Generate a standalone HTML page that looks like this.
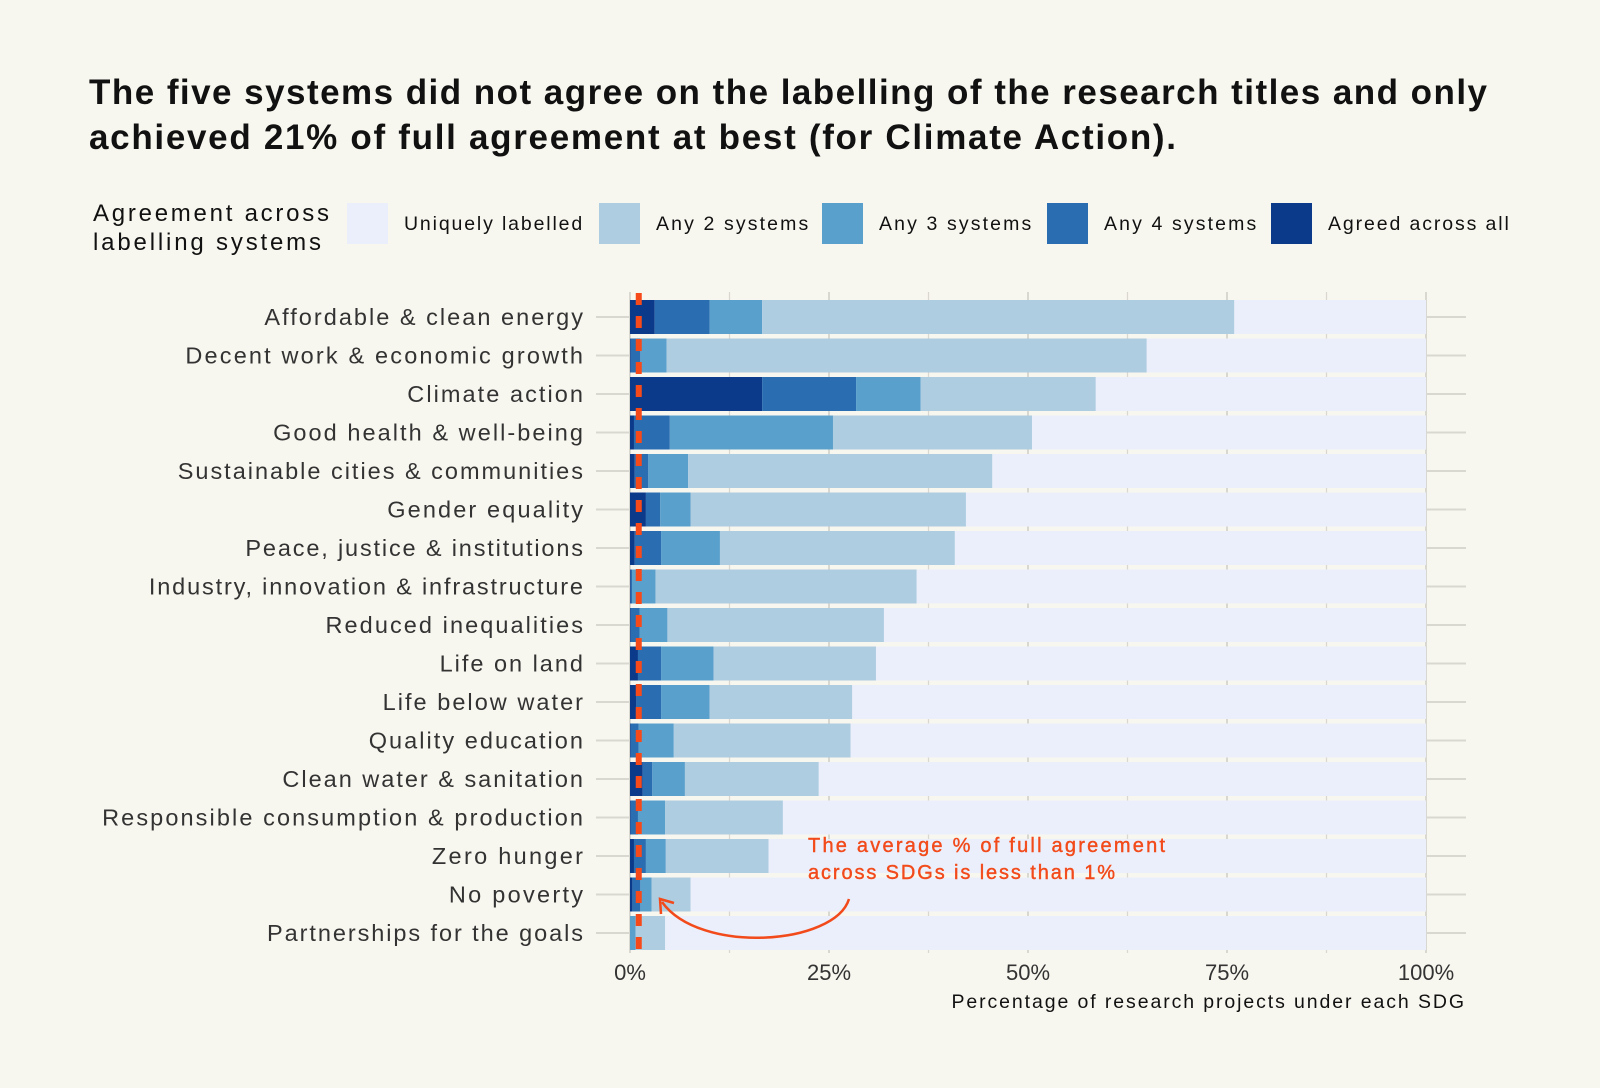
<!DOCTYPE html>
<html><head><meta charset="utf-8"><style>
body{margin:0;background:#f8f7ef;}
svg{display:block;font-family:"Liberation Sans",sans-serif;}
</style></head><body>
<svg id="c" width="1600" height="1088" viewBox="0 0 1600 1088">
<rect width="1600" height="1088" fill="#f8f7ef"/>
<text x="89" y="104" font-size="35" font-weight="bold" fill="#111" textLength="1398" lengthAdjust="spacing">The five systems did not agree on the labelling of the research titles and only</text>
<text x="89" y="149" font-size="35" font-weight="bold" fill="#111" textLength="1087" lengthAdjust="spacing">achieved 21% of full agreement at best (for Climate Action).</text>
<g id="legend">
<text x="93" y="221" font-size="24" fill="#111"><tspan x="93" textLength="236">Agreement across</tspan><tspan x="93" dy="29" textLength="228">labelling systems</tspan></text>
</g>
<g id="grid"></g>
<g id="bars"></g>
<g id="labels"></g>
<text class="st" data-k="1.2" x="1464" y="1008" font-size="19.5" text-anchor="end" fill="#111">Percentage of research projects under each SDG</text>
<text x="808" y="852" font-size="20" fill="#f24a1a" stroke="#f24a1a" stroke-width="0.4"><tspan x="808" textLength="357">The average % of full agreement</tspan><tspan x="808" dy="27" textLength="307">across SDGs is less than 1%</tspan></text>
<path d="M849 899 C835 945 700 955 662 902" fill="none" stroke="#f24a1a" stroke-width="2.5"/>
<path d="M674 903 L660 899 L661 914" fill="none" stroke="#f24a1a" stroke-width="2.5"/>
</svg>
<script>
const categories=["Affordable & clean energy","Decent work & economic growth","Climate action","Good health & well-being","Sustainable cities & communities","Gender equality","Peace, justice & institutions","Industry, innovation & infrastructure","Reduced inequalities","Life on land","Life below water","Quality education","Clean water & sanitation","Responsible consumption & production","Zero hunger","No poverty","Partnerships for the goals"];
const agreedAll=[3.1,0.1,16.6,0.5,0.6,2.0,0.6,0.1,0.1,1.0,0.8,0.1,1.6,0.1,0.5,0.3,0.0];
const any4=[6.9,1.2,11.8,4.5,1.7,1.8,3.3,0.15,1.1,2.9,3.1,1.0,1.2,0.9,1.5,1.0,0.0];
const any3=[6.6,3.3,8.1,20.5,5.0,3.8,7.4,2.95,3.5,6.6,6.1,4.4,4.1,3.4,2.5,1.4,0.7];
const any2=[59.3,60.3,22.0,25.0,38.2,34.6,29.5,32.8,27.2,20.4,17.9,22.2,16.8,14.8,12.9,4.9,3.7];
const avgAgreement=1.1;
const xTicks=[0,25,50,75,100];
const xTickLabels=["0%","25%","50%","75%","100%"];
const seriesNames=["Uniquely labelled","Any 2 systems","Any 3 systems","Any 4 systems","Agreed across all"];
const colors=["#eaeffb","#afcde1","#5aa0cc","#2a6db0","#0c3a8a"];
const NS="http://www.w3.org/2000/svg";
const x0=630,x1=1426,rowTop=317,pitch=38.5,bh=34;
const X=v=>x0+(x1-x0)*v/100;
const Y=i=>rowTop+i*pitch;
function mk(tag,attrs,parent){const e=document.createElementNS(NS,tag);for(const k in attrs)e.setAttribute(k,attrs[k]);parent.appendChild(e);return e;}
const grid=document.getElementById('grid'),bars=document.getElementById('bars'),labels=document.getElementById('labels'),legend=document.getElementById('legend');
const yTop=Y(0)-bh/2-8,yBot=Y(categories.length-1)+bh/2+3;
for(let t=0;t<=100;t+=12.5){const l=mk('line',{x1:X(t),x2:X(t),y1:yTop,y2:yBot,stroke:'#d9d8d0','stroke-width':t%25===0?2:1.3},grid);

}
categories.forEach((c,i)=>{const l=mk('line',{x1:596,x2:1466,y1:Y(i),y2:Y(i),stroke:'#d9d8d0','stroke-width':2},grid);


const segs=[agreedAll[i],any4[i],any3[i],any2[i]];
const segCols=[colors[4],colors[3],colors[2],colors[1]];
const segNames=['agreed-all','any-4','any-3','any-2'];
const bg=mk('rect',{x:X(0),y:Y(i)-bh/2,width:X(100)-X(0),height:bh,fill:colors[0]},bars);


let acc=0;
segs.forEach((v,k)=>{const r=mk('rect',{x:X(acc),y:Y(i)-bh/2,width:Math.max(0,X(acc+v)-X(acc)),height:bh,fill:segCols[k]},bars);


acc+=v;});
const t=mk('text',{x:583,y:Y(i)+8,'font-size':23.5,'text-anchor':'end',fill:'#333',class:'st','data-k':1.18},labels);t.textContent=c;

});
xTicks.forEach((v,k)=>{const t=mk('text',{x:X(v),y:980,'font-size':22,'text-anchor':'middle',fill:'#333'},labels);t.textContent=xTickLabels[k];

});
const avg=mk('line',{x1:X(avgAgreement),x2:X(avgAgreement),y1:293,y2:954,stroke:'#f74a1a','stroke-width':6,'stroke-dasharray':'12 11'},bars);


const sx=[347,599,822,1047,1271];
seriesNames.forEach((n,k)=>{const r=mk('rect',{x:sx[k],y:203,width:41,height:41,fill:colors[k]},legend);


const t=mk('text',{x:sx[k]+57,y:230,'font-size':19.5,fill:'#111',class:'st','data-k':1.2},legend);t.textContent=n;

});
document.querySelectorAll('.st').forEach(e=>{const w=e.getComputedTextLength();e.setAttribute('textLength',(w*parseFloat(e.getAttribute('data-k'))).toFixed(1));e.setAttribute('lengthAdjust','spacing');});
</script>
</body></html>
